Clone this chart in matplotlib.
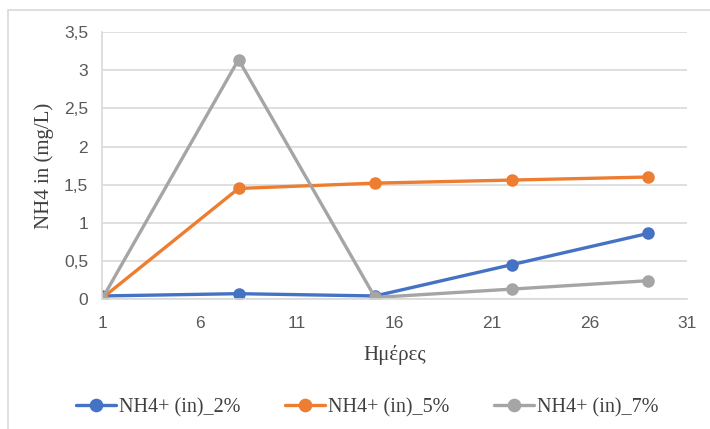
import matplotlib.pyplot as plt
from matplotlib.patches import Rectangle

# ημέρες μέτρησης
days = [1, 8, 15, 22, 29]
nh4_2 = [0.04, 0.07, 0.04, 0.45, 0.86]
nh4_5 = [0.01, 1.45, 1.52, 1.56, 1.60]
nh4_7 = [0.00, 3.14, 0.02, 0.13, 0.24]

series = [
    ("NH4+ (in)_2%", nh4_2, "#4472c4"),
    ("NH4+ (in)_5%", nh4_5, "#ed7d31"),
    ("NH4+ (in)_7%", nh4_7, "#a5a5a5"),
]
xticks = [1, 6, 11, 16, 21, 26, 31]
yticks = [0, 0.5, 1, 1.5, 2, 2.5, 3, 3.5]

fig = plt.figure(figsize=(7.1, 4.29), dpi=100)
ax = fig.add_axes([0.1437, 0.303, 0.824, 0.622])

# πλαίσιο γραφήματος
fig.patches.append(Rectangle((8 / 710, -0.05), 1.0, 1 - 10 / 429 + 0.05,
                             transform=fig.transFigure, fill=False,
                             edgecolor="#d9d9d9", lw=1.2))

for name, vals, col in series:
    ax.plot(days, vals, color=col, lw=2.4, marker="o", markersize=8, label=name,
            solid_capstyle="round")

ax.set_xlim(1, 31)
ax.set_ylim(0, 3.5)
ax.set_xticks(xticks)
ax.set_yticks(yticks)
ax.set_yticklabels([f"{v:g}".replace(".", ",") for v in yticks])
ax.tick_params(axis="y", length=0, labelsize=12.5, labelcolor="#595959", pad=10)
ax.tick_params(axis="x", length=0, labelsize=12.5, labelcolor="#595959", pad=12)
for lb in ax.get_xticklabels() + ax.get_yticklabels():
    lb.set_family("Liberation Sans")

ax.grid(axis="y", color="#d9d9d9", lw=1.2)
ax.set_axisbelow(True)
for s in ["top", "right"]:
    ax.spines[s].set_visible(False)
ax.spines["left"].set_color("#d9d9d9")
ax.spines["bottom"].set_color("#d9d9d9")
ax.spines["left"].set_linewidth(1.2)
ax.spines["bottom"].set_linewidth(1.2)

ax.set_xlabel("Ημέρες", family="Liberation Serif", fontsize=15, color="#404040",
              labelpad=10)
ax.set_ylabel("NH4 in (mg/L)", family="Liberation Serif", fontsize=15, color="#404040",
              labelpad=7)

fig.legend(loc="center", bbox_to_anchor=(0.517, 0.05), ncol=3, frameon=False,
           prop={"family": "Liberation Serif", "size": 14.5}, handlelength=2.0,
           columnspacing=2.2, handletextpad=0.15, labelcolor="#404040",
           markerscale=1.1)

fig.savefig("out.png", dpi=100)
